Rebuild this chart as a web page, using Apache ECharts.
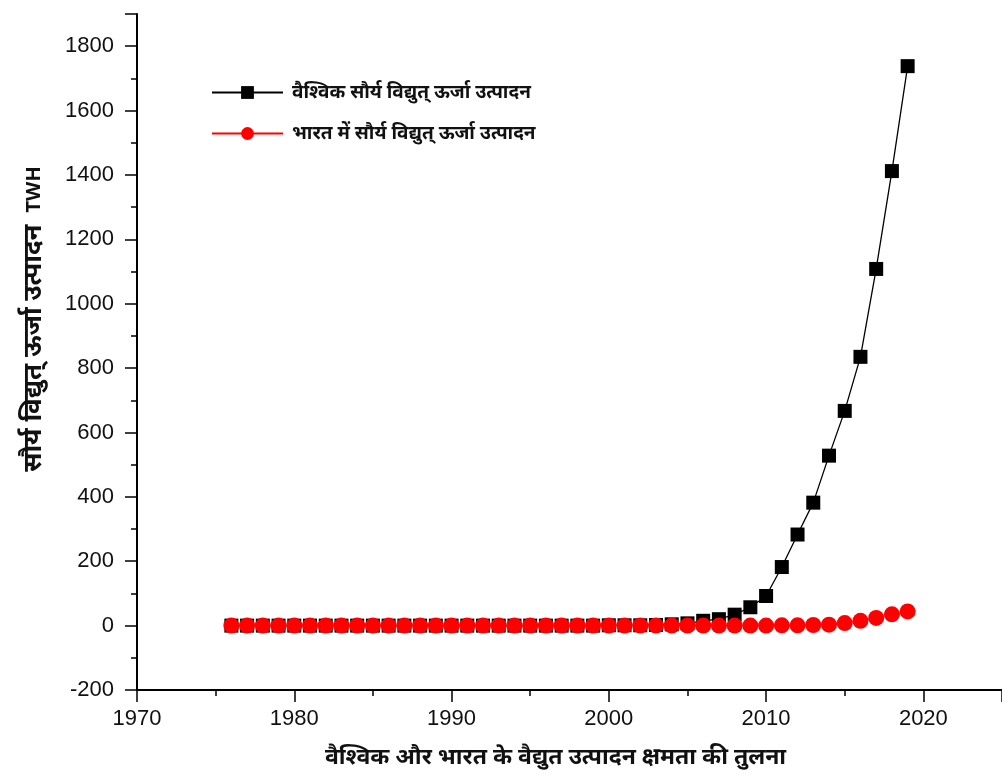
<!DOCTYPE html>
<html>
<head>
<meta charset="utf-8">
<script src="https://cdn.jsdelivr.net/npm/echarts@6/dist/echarts.min.js"></script>
<style>
  html, body { margin: 0; padding: 0; background: #fff; }
  #chart { width: 1002px; height: 776px; }
</style>
</head>
<body>
<div id="chart"></div>
<script>
// years on x axis
var years = [1976, 1977, 1978, 1979, 1980, 1981, 1982, 1983, 1984, 1985,
  1986, 1987, 1988, 1989, 1990, 1991, 1992, 1993, 1994, 1995,
  1996, 1997, 1998, 1999, 2000, 2001, 2002, 2003, 2004, 2005,
  2006, 2007, 2008, 2009, 2010, 2011, 2012, 2013, 2014, 2015,
  2016, 2017, 2018, 2019];

// वैश्विक (TWH)
var worldData = [0, 0, 0, 0, 0, 0, 0, 0, 0, 0,
  0, 0, 0, 0, 0, 0, 0, 0, 0, 0,
  0, 0, 0, 0, 1, 1, 1, 2, 4, 7,
  15, 20, 34, 57, 92, 182, 283, 382, 528, 667,
  835, 1108, 1412, 1738];

// भारत (TWH)
var indiaData = [0, 0, 0, 0, 0, 0, 0, 0, 0, 0,
  0, 0, 0, 0, 0, 0, 0, 0, 0, 0,
  0, 0, 0, 0, 0, 0, 0, 0, 0, 0,
  0, 0, 0, 0, 0, 1, 1, 2, 3, 8,
  15, 24, 35, 44];

var seriesNames = ['वैश्विक सौर्य विद्युत् ऊर्जा उत्पादन', 'भारत में सौर्य विद्युत् ऊर्जा उत्पादन'];
var xTitle = 'वैश्विक और भारत के वैद्युत उत्पादन क्षमता की तुलना';
var yTitleMain = 'सौर्य विद्युत् ऊर्जा उत्पादन';
var yTitleUnit = 'TWH';

function pairs(vals) {
  return years.map(function (y, i) { return [y, vals[i]]; });
}

var labelFont = 'Liberation Sans, Arial, sans-serif';
var titleFont = 'Noto Sans, sans-serif';

var option = {
  backgroundColor: '#fff',
  animation: false,
  grid: { left: 137, top: 14, width: 870, height: 676 },
  legend: {
    orient: 'vertical',
    left: 206,
    top: 78,
    itemGap: 22,
    itemWidth: 71,
    itemHeight: 16,
    textStyle: { fontSize: 19, fontWeight: 'bold', color: '#111', fontFamily: titleFont, padding: [0, 0, 0, 4] },
    data: seriesNames
  },
  xAxis: {
    type: 'value',
    min: 1970,
    max: 2025,
    interval: 10,
    name: xTitle,
    nameLocation: 'middle',
    nameGap: 56,
    nameTextStyle: { fontSize: 23, fontWeight: 'bold', color: '#111', fontFamily: titleFont, padding: [0, 28, 0, 0] },
    axisLine: { onZero: false, lineStyle: { color: '#000', width: 2 } },
    axisTick: { show: true, inside: false, length: 12, lineStyle: { color: '#000', width: 1.5 } },
    minorTick: { show: true, splitNumber: 2, length: 6, lineStyle: { color: '#000', width: 1.5 } },
    axisLabel: {
      fontSize: 22, color: '#111', margin: 18, fontFamily: labelFont, showMaxLabel: false,
      formatter: function (v) { return String(v); }
    },
    splitLine: { show: false }
  },
  yAxis: {
    type: 'value',
    min: -200,
    max: 1900,
    interval: 200,
    name: '{a|' + yTitleMain + '}{b|' + yTitleUnit + '}',
    nameLocation: 'middle',
    nameGap: 90,
    nameTextStyle: {
      color: '#111',
      padding: [0, 0, 0, 66],
      rich: {
        a: { fontSize: 26, fontWeight: 'bold', color: '#111', fontFamily: titleFont, verticalAlign: 'middle' },
        b: { fontSize: 20, fontWeight: 'bold', color: '#111', fontFamily: titleFont, verticalAlign: 'middle', padding: [0, 0, 0, 12] }
      }
    },
    axisLine: { onZero: false, lineStyle: { color: '#000', width: 2 } },
    axisTick: { show: true, inside: false, length: 12, lineStyle: { color: '#000', width: 1.5 } },
    minorTick: { show: true, splitNumber: 2, length: 6, lineStyle: { color: '#000', width: 1.5 } },
    axisLabel: {
      fontSize: 22, color: '#111', margin: 23, fontFamily: labelFont, showMaxLabel: false,
      formatter: function (v) { return String(v); }
    },
    splitLine: { show: false }
  },
  series: [
    {
      name: seriesNames[0],
      type: 'line',
      data: pairs(worldData),
      symbol: 'rect',
      symbolSize: 14,
      lineStyle: { color: '#000', width: 1.3 },
      itemStyle: { color: '#000' }
    },
    {
      name: seriesNames[1],
      type: 'line',
      data: pairs(indiaData),
      symbol: 'circle',
      symbolSize: 16,
      lineStyle: { color: '#ff0000', width: 1 },
      itemStyle: { color: '#ff0000' }
    }
  ]
};

var chart = echarts.init(document.getElementById('chart'));
chart.setOption(option);
</script>
</body>
</html>
